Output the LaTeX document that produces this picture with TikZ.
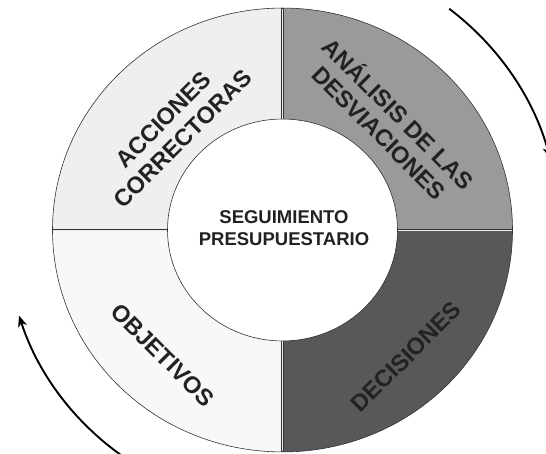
\documentclass[tikz,border=0pt]{standalone}
\usepackage{fontspec}
\setmainfont{Liberation Sans}
\usetikzlibrary{arrows.meta}
\definecolor{qtl}{HTML}{EFEFEF}
\definecolor{qbl}{HTML}{F8F8F8}
\definecolor{qtr}{HTML}{9A9A9D}
\definecolor{qbr}{HTML}{58585A}
\definecolor{edge}{HTML}{333333}
\definecolor{txt}{HTML}{222222}
\tikzset{
  quad/.style={draw=edge, line width=0.6pt},
  lbl/.style={font=\bfseries\fontsize{23.5}{27}\selectfont, text=txt, align=center, inner sep=0pt},
  ctr/.style={font=\bfseries\fontsize{18.5}{22}\selectfont, text=txt, align=center, inner sep=0pt},
  cyc/.style={line width=1.9pt, black, -{Stealth[length=11pt,width=9pt,inset=3pt]}}
}
\begin{document}
\begin{tikzpicture}[x=1pt,y=1pt]
\useasboundingbox (0,0) rectangle (546,454);
\clip (0,0) rectangle (546,454);
\fill[white] (0,0) rectangle (546,454);
\coordinate (C) at (282.5,224);
\begin{scope}[shift={(282.5,224)}, yscale=0.965]
  \fill[qtr] (115,0) -- (230,0) arc[start angle=0,end angle=90,radius=230] -- (0,115) arc[start angle=90,end angle=0,radius=115] -- cycle;
  \fill[qtl] (0,115) -- (0,230) arc[start angle=90,end angle=180,radius=230] -- (-115,0) arc[start angle=180,end angle=90,radius=115] -- cycle;
  \fill[qbl] (-115,0) -- (-230,0) arc[start angle=180,end angle=270,radius=230] -- (0,-115) arc[start angle=270,end angle=180,radius=115] -- cycle;
  \fill[qbr] (0,-115) -- (0,-230) arc[start angle=270,end angle=360,radius=230] -- (115,0) arc[start angle=0,end angle=-90,radius=115] -- cycle;
  \draw[quad] (0,0) circle[radius=230];
  \draw[quad] (0,0) circle[radius=115];
  \foreach \a in {0,90,180,270}{
    \draw[edge, line width=2.6pt] (\a:115) -- (\a:230);
    \draw[white!85!gray, line width=0.9pt] (\a:115.5) -- (\a:229.5);
  }
\end{scope}
\node[ctr] (centro) at (284,226) {SEGUIMIENTO\\PRESUPUESTARIO};
\node[lbl, rotate=45] (acc) at (173,325) {ACCIONES\\CORRECTORAS};
\node[lbl, rotate=-45] (ana) at (390,332) {ANÁLISIS DE LAS\\DESVIACIONES};
\node[lbl, rotate=-45] (obj) at (163,99) {OBJETIVOS};
\node[lbl, rotate=45] (dec) at (406,97) {DECISIONES};
\draw[cyc] (C) ++(53:277) arc[start angle=53,end angle=15,radius=277];
\draw[cyc] (C) ++(242:277) arc[start angle=242,end angle=198,radius=277];
\end{tikzpicture}
\end{document}
